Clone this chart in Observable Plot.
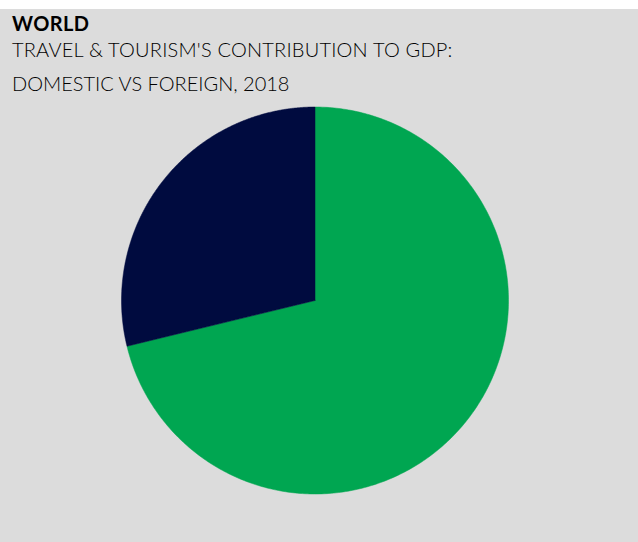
<!DOCTYPE html>
<html>
<head>
<meta charset="utf-8">
<script src="https://cdn.jsdelivr.net/npm/d3@7"></script>
<script src="https://cdn.jsdelivr.net/npm/@observablehq/plot@0.6"></script>
<style>
  html, body { margin: 0; padding: 0; background: #ffffff; }
  #frame { position: relative; width: 638px; height: 542px; overflow: hidden; }
  #panel { position: absolute; left: 0; top: 9px; width: 638px; height: 533px; background: #dcdcdc; }
  .t { position: absolute; left: 12px; font-family: Lato, "Open Sans", sans-serif; color: #000; white-space: nowrap; }
  #title { top: 12.5px; font-size: 20px; line-height: 20px; font-weight: 700; letter-spacing: 0.4px; }
  #sub1 { top: 39.3px; font-size: 20px; line-height: 20px; font-weight: 300; letter-spacing: 0.2px; }
  #sub2 { top: 73.3px; font-size: 20px; line-height: 20px; font-weight: 300; }
  #chart { position: absolute; left: 0; top: 100px; }
</style>
</head>
<body>
<div id="frame">
  <div id="panel"></div>
  <div class="t" id="title">WORLD</div>
  <div class="t" id="sub1">TRAVEL &amp; TOURISM'S CONTRIBUTION TO GDP:</div>
  <div class="t" id="sub2">DOMESTIC VS FOREIGN, 2018</div>
  <div id="chart"></div>
</div>
<script>
// Data
const categories = ["Domestic", "Foreign"];
const shares = [71.2, 28.8];
const colors = ["#00a651", "#000b3f"];

const table = categories.map((c, i) => ({category: c, value: shares[i]}));
const arcs = d3.pie().sort(null).value(d => d.value).startAngle(0).endAngle(2 * Math.PI)(table);

// Build polygon outlines of each slice (unit circle, angle clockwise from top)
const pts = [];
for (const a of arcs) {
  const cat = a.data.category;
  pts.push({category: cat, x: 0, y: 0});
  const n = 360;
  for (let k = 0; k <= n; k++) {
    const t = a.startAngle + (a.endAngle - a.startAngle) * k / n;
    pts.push({category: cat, x: Math.sin(t), y: Math.cos(t)});
  }
  pts.push({category: cat, x: 0, y: 0});
}

const chart = Plot.plot({
  width: 638,
  height: 400,
  marginLeft: 121,
  marginRight: 130,
  marginTop: 6.5,
  marginBottom: 6.5,
  x: {domain: [-1, 1], axis: null},
  y: {domain: [-1, 1], axis: null},
  color: {domain: categories, range: colors},
  style: {background: "transparent", overflow: "visible"},
  marks: [
    Plot.line(pts, {x: "x", y: "y", z: "category", fill: "category", stroke: "category", strokeWidth: 0.5, curve: "linear"})
  ]
});
document.getElementById("chart").appendChild(chart);
</script>
</body>
</html>
